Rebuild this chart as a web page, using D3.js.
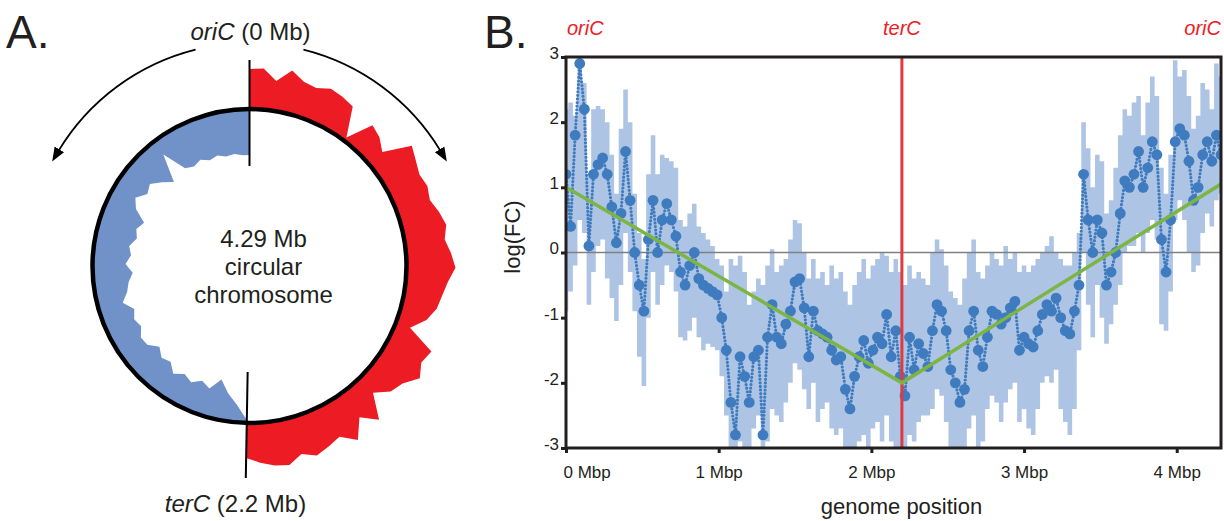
<!DOCTYPE html>
<html>
<head>
<meta charset="utf-8">
<script src="https://cdn.jsdelivr.net/npm/d3@7"></script>
<style>
body { margin: 0; background: #fff; }
svg { font-family: "Liberation Sans", Arial, Helvetica, sans-serif; }
</style>
</head>
<body>
<div id="chart"></div>
<script>
var width = 1224;
var height = 521;
var ink = "#231f20";

// ---- panel B: log fold change along the genome (Mbp) ----
var binMb = [0.00,0.03,0.06,0.09,0.12,0.15,0.18,0.21,0.24,0.27,
	0.30,0.33,0.36,0.39,0.42,0.45,0.48,0.51,0.54,0.57,
	0.60,0.63,0.66,0.69,0.72,0.75,0.78,0.81,0.84,0.87,
	0.90,0.93,0.96,0.99,1.02,1.05,1.08,1.11,1.14,1.17,
	1.20,1.23,1.26,1.29,1.32,1.35,1.38,1.41,1.44,1.47,
	1.50,1.53,1.56,1.59,1.62,1.65,1.68,1.71,1.74,1.77,
	1.80,1.83,1.86,1.89,1.92,1.95,1.98,2.01,2.04,2.07,
	2.10,2.13,2.16,2.19,2.22,2.25,2.28,2.31,2.34,2.37,
	2.40,2.43,2.46,2.49,2.52,2.55,2.58,2.61,2.64,2.67,
	2.70,2.73,2.76,2.79,2.82,2.85,2.88,2.91,2.94,2.97,
	3.00,3.03,3.06,3.09,3.12,3.15,3.18,3.21,3.24,3.27,
	3.30,3.33,3.36,3.39,3.42,3.45,3.48,3.51,3.54,3.57,
	3.60,3.63,3.66,3.69,3.72,3.75,3.78,3.81,3.84,3.87,
	3.90,3.93,3.96,3.99,4.02,4.05,4.08,4.11,4.14,4.17,
	4.20,4.23,4.26,4.29];

var logFC = [1.2,0.4,1.8,2.9,2.2,0.1,1.2,1.35,1.45,1.2,
	0.7,0.15,0.6,1.55,0.8,0.0,-0.5,-0.9,0.2,0.8,
	0.0,0.5,0.75,0.5,0.25,-0.3,-0.5,-0.2,0.0,-0.4,
	-0.5,-0.55,-0.6,-0.65,-1.0,-1.5,-2.3,-2.8,-1.6,-1.9,
	-2.3,-1.6,-1.5,-2.8,-1.3,-0.8,-1.3,-1.4,-1.1,-0.9,
	-0.45,-0.4,-0.85,-1.6,-0.9,-1.2,-1.25,-1.3,-1.5,-1.65,
	-1.6,-2.1,-2.4,-1.9,-1.6,-1.35,-1.7,-1.5,-1.3,-1.4,
	-0.95,-1.6,-1.2,-1.9,-2.2,-1.3,-1.8,-1.4,-1.55,-1.75,
	-1.2,-0.8,-0.9,-1.2,-1.8,-2.0,-2.3,-2.1,-1.2,-0.9,
	-1.5,-1.75,-1.3,-0.9,-0.95,-1.1,-1.0,-0.85,-0.75,-1.5,
	-1.3,-1.4,-1.45,-1.2,-0.95,-0.8,-0.9,-0.7,-1.0,-1.2,
	-1.25,-0.9,-0.5,1.2,0.5,0.0,0.5,0.3,-0.5,-0.3,
	0.0,0.6,1.1,1.0,1.2,1.55,1.0,1.3,1.7,1.5,
	0.2,-0.3,0.5,1.7,1.9,1.8,1.4,0.8,1.0,1.5,
	1.7,1.4,1.8,1.5];

var bandHi = [2.2,2.3,2.1,2.9,2.6,1.2,2.2,2.25,2.2,2.0,
	1.5,0.9,1.9,2.5,2.0,0.9,0.3,-0.1,1.2,1.8,
	1.2,1.5,1.45,1.4,1.3,0.5,0.4,0.6,0.75,0.4,
	0.3,0.2,0.1,-0.1,-0.2,-0.6,-0.1,-0.2,-0.05,-0.3,
	-0.8,-0.6,-0.4,-0.5,-0.2,0.05,-0.3,-0.2,-0.1,0.2,
	0.5,0.45,0.0,-0.4,-0.1,-0.4,-0.3,-0.5,-0.2,-0.4,
	-0.3,-0.6,-0.8,-0.5,-0.3,-0.1,-0.4,-0.2,-0.1,0.0,
	-0.05,-0.3,-0.1,-0.3,-0.5,-0.2,-0.4,-0.3,-0.4,-0.5,
	0.0,0.2,0.05,-0.2,-0.6,-0.7,-0.8,-0.4,0.0,0.2,
	-0.3,-0.4,-0.2,0.0,-0.1,-0.2,0.1,-0.1,0.0,-0.3,
	-0.2,-0.3,-0.2,-0.1,0.0,0.1,0.25,0.0,-0.1,-0.2,
	-0.2,0.0,0.3,2.0,1.6,1.0,1.5,1.4,0.6,0.8,
	1.3,1.8,2.2,2.1,2.3,2.4,1.8,2.3,2.7,2.4,
	1.3,0.9,1.5,2.95,2.7,2.8,2.4,1.9,2.1,2.6,
	2.5,2.2,2.9,2.7];

var bandLo = [-0.9,-0.6,-0.2,0.5,0.3,-0.8,-0.3,0.1,0.2,-0.4,
	-0.7,-1.05,-0.5,0.3,-0.3,-0.9,-1.6,-2.05,-1.0,-0.3,
	-0.8,-0.5,-0.2,-0.3,-0.6,-1.3,-1.35,-1.2,-1.0,-1.3,
	-1.5,-1.4,-1.45,-1.5,-1.9,-2.5,-3.0,-3.0,-2.9,-3.0,
	-3.0,-2.7,-2.5,-3.0,-2.9,-2.4,-2.5,-2.6,-2.3,-2.0,
	-1.7,-1.8,-2.1,-2.4,-2.0,-2.6,-2.4,-2.3,-2.7,-2.8,
	-2.7,-3.0,-3.0,-3.0,-2.9,-2.8,-3.0,-2.7,-2.6,-2.9,
	-2.5,-2.9,-3.0,-3.0,-3.0,-2.8,-2.9,-2.6,-2.5,-2.5,
	-2.4,-2.1,-2.2,-2.6,-3.0,-3.0,-3.0,-3.0,-2.7,-2.5,
	-3.0,-2.9,-2.4,-2.2,-2.3,-2.6,-2.3,-2.1,-2.0,-2.6,
	-2.4,-2.7,-2.8,-2.4,-2.0,-1.9,-2.0,-1.8,-2.4,-2.6,
	-2.8,-2.4,-1.5,0.0,-0.8,-1.3,-0.5,-1.0,-1.4,-1.1,
	-0.8,-0.5,0.0,0.1,0.1,0.3,0.0,0.3,0.5,0.2,
	-1.1,-1.2,-0.6,0.5,0.8,0.5,0.0,-0.3,-0.2,0.3,
	0.6,0.4,0.8,0.9];

// replication model (V shape) and the terminus
var fitMb = [0, 2.2, 4.29];
var fitFC = [1.0, -2.0, 1.05];
var terCMb = 2.2;
var genomeMb = 4.29;

var yTicks = [-3, -2, -1, 0, 1, 2, 3];
var xTicks = [0, 1, 2, 3, 4];

// ---- panel A: signal around the circular chromosome ----
var redMb = [0.00,0.05,0.10,0.15,0.20,0.25,0.30,0.35,0.40,0.45,
	0.50,0.55,0.60,0.65,0.70,0.75,0.80,0.85,0.90,0.95,
	1.00,1.05,1.10,1.15,1.20,1.25,1.30,1.35,1.40,1.45,
	1.50,1.55,1.60,1.65,1.70,1.75,1.80,1.85,1.90,1.95,
	2.00,2.05,2.10,2.15,2.20];
var redSignal = [0.80,0.82,0.60,0.86,0.70,0.66,0.76,0.72,0.66,0.08,
	0.60,0.52,0.36,0.90,0.80,0.72,0.76,0.70,0.80,0.88,
	0.80,0.90,0.98,0.84,0.76,0.70,0.56,0.30,0.88,0.80,
	0.94,0.72,0.64,0.40,0.88,0.60,0.96,0.72,0.80,0.88,
	0.76,0.92,0.88,0.80,0.70];

var blueMb = [2.20,2.25,2.30,2.35,2.40,2.45,2.50,2.55,2.60,2.65,
	2.70,2.75,2.80,2.85,2.90,2.95,3.00,3.05,3.10,3.15,
	3.20,3.25,3.30,3.35,3.40,3.45,3.50,3.55,3.60,3.65,
	3.70,3.75,3.80,3.85,3.90,3.95,4.00,4.05,4.10,4.15,
	4.20,4.25,4.29];
var blueSignal = [0.06,0.36,0.56,0.80,0.56,0.66,0.54,0.62,0.50,0.66,
	0.60,0.72,0.56,0.54,0.66,0.60,0.68,0.50,0.64,0.70,
	0.80,0.66,0.76,0.70,0.82,0.76,0.86,0.60,0.48,0.64,
	0.56,0.72,0.88,0.32,0.80,0.86,0.80,0.88,0.84,0.90,
	0.88,0.92,0.92];


var svg = d3.select("#chart")
	.append("svg")
	.attr("width", width)
	.attr("height", height);

var defs = svg.append("defs");

drawCircle();
drawPlot();

function drawCircle() {
	var cx = 249.5, cy = 266, R = 157;
	var g = svg.append("g").attr("transform", "translate(" + cx + "," + cy + ")");

	// the figure draws terC a little past the bottom, not at 2.2/4.29 of the turn
	var angle = d3.scaleLinear()
		.domain([0, terCMb, genomeMb])
		.range([0, 181 / 180 * Math.PI, 2 * Math.PI]);
	var depth = d3.scaleLinear().domain([0, 1]).range([0, 50]);

	var red = redMb.map(function(m, i) { return { mb: m, v: redSignal[i] }; });
	var blue = blueMb.map(function(m, i) { return { mb: m, v: blueSignal[i] }; });

	g.append("path")
		.datum(red)
		.attr("d", d3.areaRadial()
			.angle(function(d) { return angle(d.mb); })
			.innerRadius(R)
			.outerRadius(function(d) { return R + depth(d.v); }))
		.attr("fill", "#ed1c24");

	g.append("path")
		.datum(blue)
		.attr("d", d3.areaRadial()
			.angle(function(d) { return angle(d.mb); })
			.innerRadius(function(d) { return R - depth(d.v); })
			.outerRadius(R))
		.attr("fill", "#7092c9");

	g.append("circle")
		.attr("r", R)
		.attr("fill", "none")
		.attr("stroke", "#000")
		.attr("stroke-width", 4.5);

	// oriC and terC markers
	[[0, 100, 206], [terCMb, 106, 212]].forEach(function(m) {
		var a = angle(m[0]);
		g.append("line")
			.attr("x1", m[1] * Math.sin(a)).attr("y1", -m[1] * Math.cos(a))
			.attr("x2", m[2] * Math.sin(a)).attr("y2", -m[2] * Math.cos(a))
			.attr("stroke", "#000")
			.attr("stroke-width", 2);
	});

	// direction arrows
	defs.append("marker")
		.attr("id", "head")
		.attr("viewBox", "0 -6 14 12")
		.attr("refX", 2)
		.attr("refY", 0)
		.attr("markerWidth", 14)
		.attr("markerHeight", 12)
		.attr("markerUnits", "userSpaceOnUse")
		.attr("orient", "auto")
		.append("path")
		.attr("d", "M0,-5.5L14,0L0,5.5Z")
		.attr("fill", "#000");

	var deg = Math.PI / 180;
	var rArc = 223;
	var right = d3.path();
	right.arc(0, 0, rArc, (14 - 90) * deg, (59 - 90) * deg, false);
	var left = d3.path();
	left.arc(0, 0, rArc, (-14 - 90) * deg, (-59 - 90) * deg, true);
	[right, left].forEach(function(p) {
		g.append("path")
			.attr("d", p.toString())
			.attr("fill", "none")
			.attr("stroke", "#000")
			.attr("stroke-width", 1.8)
			.attr("marker-end", "url(#head)");
	});

	// labels
	var t1 = svg.append("text")
		.attr("x", cx + 1).attr("y", 40)
		.attr("text-anchor", "middle")
		.attr("font-size", 24)
		.attr("fill", ink);
	t1.append("tspan").attr("font-style", "italic").text("oriC");
	t1.append("tspan").text(" (0 Mb)");

	var t2 = svg.append("text")
		.attr("x", cx - 14).attr("y", 512)
		.attr("text-anchor", "middle")
		.attr("font-size", 24)
		.attr("fill", ink);
	t2.append("tspan").attr("font-style", "italic").text("terC");
	t2.append("tspan").text(" (2.2 Mb)");

	["4.29 Mb", "circular", "chromosome"].forEach(function(s, i) {
		svg.append("text")
			.attr("x", cx + 14).attr("y", 247 + i * 28)
			.attr("text-anchor", "middle")
			.attr("font-size", 24)
			.attr("fill", ink)
			.text(s);
	});

	svg.append("text")
		.attr("x", 6).attr("y", 48)
		.attr("font-size", 46)
		.attr("fill", ink)
		.text("A.");
}


function drawPlot() {
	var left = 566, right = 1221, top = 57, bottom = 448;

	var xScale = d3.scaleLinear().domain([0, genomeMb]).range([left, right]);
	var yScale = d3.scaleLinear().domain([-3, 3]).range([bottom, top]);

	var rows = binMb.map(function(m, i) {
		return { mb: m, fc: logFC[i], lo: bandLo[i], hi: bandHi[i] };
	});

	defs.append("clipPath")
		.attr("id", "plotClip")
		.append("rect")
		.attr("x", left).attr("y", top)
		.attr("width", right - left).attr("height", bottom - top);

	var plot = svg.append("g").attr("clip-path", "url(#plotClip)");

	plot.append("path")
		.datum(rows)
		.attr("d", d3.area()
			.curve(d3.curveStep)
			.x(function(d) { return xScale(d.mb); })
			.y0(function(d) { return yScale(d.lo); })
			.y1(function(d) { return yScale(d.hi); }))
		.attr("fill", "#adc4e4");

	plot.append("line")
		.attr("x1", left).attr("x2", right)
		.attr("y1", yScale(0)).attr("y2", yScale(0))
		.attr("stroke", "#808080")
		.attr("stroke-width", 1.5);

	// dotted trail between the points
	plot.append("path")
		.datum(rows)
		.attr("d", d3.line()
			.x(function(d) { return xScale(d.mb); })
			.y(function(d) { return yScale(d.fc); }))
		.attr("fill", "none")
		.attr("stroke", "#3f7bbf")
		.attr("stroke-width", 3.2)
		.attr("stroke-linecap", "round")
		.attr("stroke-dasharray", "0,3.6");

	plot.selectAll(".dot")
		.data(rows)
		.enter()
		.append("circle")
		.attr("class", "dot")
		.attr("cx", function(d) { return xScale(d.mb); })
		.attr("cy", function(d) { return yScale(d.fc); })
		.attr("r", 5.4)
		.attr("fill", "#3f7bbf");

	plot.append("line")
		.attr("x1", xScale(terCMb)).attr("x2", xScale(terCMb))
		.attr("y1", top).attr("y2", bottom)
		.attr("stroke", "#e03a3e")
		.attr("stroke-width", 3);

	plot.append("path")
		.datum(fitMb.map(function(m, i) { return { mb: m, fc: fitFC[i] }; }))
		.attr("d", d3.line()
			.x(function(d) { return xScale(d.mb); })
			.y(function(d) { return yScale(d.fc); }))
		.attr("fill", "none")
		.attr("stroke", "#7db544")
		.attr("stroke-width", 3.5);

	// axes
	var yAxis = svg.append("g")
		.attr("transform", "translate(" + left + ",0)")
		.call(d3.axisLeft(yScale).tickValues(yTicks).tickSize(5)
			.tickFormat(function(d) { return String(d); }));
	yAxis.select(".domain").remove();
	yAxis.selectAll("line").attr("stroke", ink).attr("stroke-width", 3);
	yAxis.selectAll("text")
		.attr("x", -7).attr("dy", "0.08em")
		.attr("font-size", 17)
		.attr("font-family", null)
		.attr("fill", ink);

	var xAxis = svg.append("g")
		.attr("transform", "translate(0," + bottom + ")")
		.call(d3.axisBottom(xScale).tickValues(xTicks).tickSize(5)
			.tickFormat(function(d) { return d + " Mbp"; }));
	xAxis.select(".domain").remove();
	xAxis.selectAll("line").attr("stroke", ink).attr("stroke-width", 3);
	xAxis.selectAll("text")
		.attr("y", 30).attr("dy", 0)
		.attr("font-size", 17)
		.attr("font-family", null)
		.attr("fill", ink);
	xAxis.selectAll("text").filter(function(d) { return d === 0; })
		.attr("text-anchor", "start").attr("x", -3);

	svg.append("rect")
		.attr("x", left).attr("y", top)
		.attr("width", right - left).attr("height", bottom - top)
		.attr("fill", "none")
		.attr("stroke", ink)
		.attr("stroke-width", 3);

	svg.append("text")
		.attr("x", (left + right) / 2 + 8).attr("y", 514)
		.attr("text-anchor", "middle")
		.attr("font-size", 22)
		.attr("fill", ink)
		.text("genome position");

	svg.append("text")
		.attr("transform", "translate(520,237) rotate(-90)")
		.attr("text-anchor", "middle")
		.attr("font-size", 22)
		.attr("fill", ink)
		.text("log(FC)");

	// replication landmarks
	[[0, "start"], [terCMb, "middle"], [genomeMb, "end"]].forEach(function(m) {
		svg.append("text")
			.attr("x", xScale(m[0]) + (m[1] === "start" ? 1 : 0))
			.attr("y", 35)
			.attr("text-anchor", m[1])
			.attr("font-size", 20)
			.attr("font-style", "italic")
			.attr("fill", "#ed1c24")
			.text(m[0] === terCMb ? "terC" : "oriC");
	});

	svg.append("text")
		.attr("x", 484).attr("y", 48)
		.attr("font-size", 46)
		.attr("fill", ink)
		.text("B.");
}
</script>
</body>
</html>
